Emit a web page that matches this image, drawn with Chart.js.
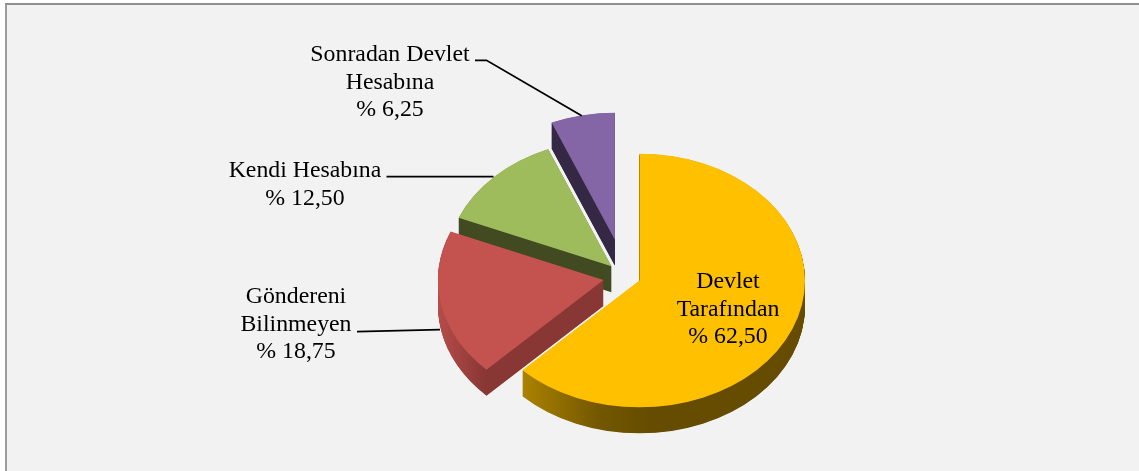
<!DOCTYPE html>
<html>
<head>
<meta charset="utf-8">
<style>
html,body{margin:0;padding:0;background:#ffffff;}
#wrap{position:absolute;left:0;top:0;width:1139px;height:471px;}
#panel{position:absolute;left:5px;top:3px;width:1134px;height:468px;box-sizing:border-box;background:#f2f2f2;border-left:2px solid #9c9c9c;border-top:2px solid #8f8f8f;}
canvas{position:absolute;left:0;top:0;}
</style>
<script src="https://cdn.jsdelivr.net/npm/chart.js@4"></script>
</head>
<body>
<div id="wrap"><div id="panel"></div><canvas id="c" width="1139" height="471"></canvas></div>
<script>
const categories = ['Devlet Tarafından','Göndereni Bilinmeyen','Kendi Hesabına','Sonradan Devlet Hesabına'];
const shares = [62.5, 18.75, 12.5, 6.25];
const topColors = ['#FFC000','#C4524F','#9FBC5C','#8466A6'];
const labelLines = [
  ['Devlet','Tarafından','% 62,50'],
  ['Göndereni','Bilinmeyen','% 18,75'],
  ['Kendi Hesabına','% 12,50'],
  ['Sonradan Devlet','Hesabına','% 6,25']
];
const labelAnchors = [[728,288],[296,303],[305,177],[390,61]];
const leaders = [
  null,
  [[357,331.7],[440,329.7]],
  [[386.5,176.7],[493.5,176.7]],
  [[475,60.3],[486.5,60.3],[581.7,115.7]]
];
const explodeX = [0,-36,-28,-24.6];
const explodeY = [0,-0.5,-14.2,-40.8];
const wallStops = [
  [[522,'#AB8200'],[600,'#735700'],[650,'#654C00']],
  [[437,'#B64D4A'],[486,'#883735']],
  [[458,'#414A20']],
  [[551,'#352845']]
];
const tilt = 0.7665, depth = 26;

const pie3d = {
  id:'pie3d',
  beforeDatasetsDraw(chart){
    const ctx = chart.ctx, arcs = chart.getDatasetMeta(0).data;
    for(let i=arcs.length-1;i>=0;i--){
      const a = arcs[i];
      const s0 = wallStops[i][0][0], s1 = wallStops[i][wallStops[i].length-1][0]+1;
      const g = ctx.createLinearGradient(s0,0,s1,0);
      wallStops[i].forEach(s=>g.addColorStop((s[0]-s0)/(s1-s0),s[1]));
      for(let d=depth;d>0;d-=0.5){
        ctx.save();
        ctx.translate(a.x+explodeX[i],a.y+explodeY[i]+d);
        ctx.scale(1,tilt);
        ctx.translate(-a.x,-a.y);
        ctx.beginPath();
        ctx.moveTo(a.x,a.y);
        ctx.arc(a.x,a.y,a.outerRadius,a.startAngle,a.endAngle);
        ctx.closePath();
        ctx.restore();
        ctx.fillStyle = g;
        ctx.fill();
      }
      ctx.save();
      ctx.translate(a.x+explodeX[i],a.y+explodeY[i]);
      ctx.scale(1,tilt);
      ctx.translate(-a.x,-a.y);
      a.draw(ctx);
      ctx.restore();
    }
    return false;
  },
  afterDraw(chart){
    const ctx = chart.ctx;
    ctx.save();
    ctx.strokeStyle = '#000';
    ctx.lineWidth = 1.8;
    leaders.forEach(l=>{
      if(!l) return;
      ctx.beginPath();
      l.forEach((p,k)=> k?ctx.lineTo(p[0],p[1]):ctx.moveTo(p[0],p[1]));
      ctx.stroke();
    });
    ctx.fillStyle = '#000';
    ctx.font = '23.8px "Liberation Serif"';
    ctx.textAlign = 'center';
    ctx.textBaseline = 'alphabetic';
    labelLines.forEach((lines,i)=>{
      lines.forEach((t,k)=>ctx.fillText(t,labelAnchors[i][0],labelAnchors[i][1]+k*27.6));
    });
    ctx.restore();
  }
};

new Chart(document.getElementById('c'),{
  type:'pie',
  data:{labels:categories,datasets:[{data:shares,backgroundColor:topColors,borderWidth:0,hoverOffset:0}]},
  options:{
    responsive:false,animation:false,
    layout:{padding:{left:140,right:0,top:115,bottom:25}},
    plugins:{legend:{display:false},tooltip:{enabled:false}}
  },
  plugins:[pie3d]
});
</script>
</body>
</html>
